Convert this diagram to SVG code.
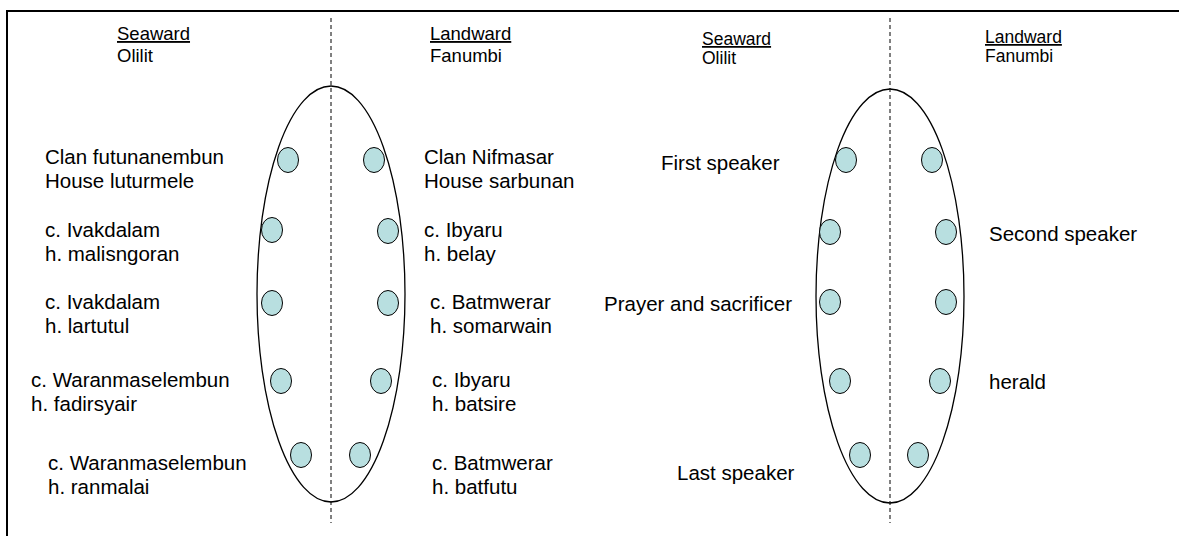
<svg xmlns="http://www.w3.org/2000/svg" width="1179" height="536" viewBox="0 0 1179 536">
<style>
text{font-family:"Liberation Sans",Arial,sans-serif;font-size:20.5px;fill:#000}
.h{font-size:18.5px}
.h2{font-size:17.5px}
.u{text-decoration:underline}
.dash{stroke:#000;stroke-width:1;stroke-dasharray:4,3;fill:none}
.ell{fill:none;stroke:#000;stroke-width:1.3}
.dot{fill:#b8dfe0;stroke:#000;stroke-width:1}
</style>
<rect width="1179" height="536" fill="#fff"/>
<g id="frame">
<line x1="6" y1="11" x2="1179" y2="11" stroke="#000" stroke-width="2"/>
<line x1="7" y1="10" x2="7" y2="536" stroke="#000" stroke-width="2"/>
</g>
<g id="connectors">
<line class="dash" x1="331" y1="18" x2="331" y2="523"/>
<line class="dash" x1="890" y1="18" x2="890" y2="523"/>
</g>
<g id="left-diagram">
<ellipse class="ell" cx="331" cy="294" rx="74" ry="208"/>
<g id="left-headers">
<text x="117" y="40" class="h u">Seaward</text>
<text x="117" y="62" class="h">Olilit</text>
<text x="430" y="40" class="h u">Landward</text>
<text x="430" y="62" class="h">Fanumbi</text>
</g>
<g id="l1s"><ellipse class="dot" cx="288" cy="160" rx="10.5" ry="12.5"/><text x="45" y="164">Clan futunanembun</text><text x="45" y="188">House luturmele</text></g>
<g id="l1l"><ellipse class="dot" cx="374" cy="160" rx="10.5" ry="12.5"/><text x="424" y="164">Clan Nifmasar</text><text x="424" y="188">House sarbunan</text></g>
<g id="l2s"><ellipse class="dot" cx="272" cy="230" rx="10.5" ry="12.5"/><text x="45" y="237">c. Ivakdalam</text><text x="45" y="261">h. malisngoran</text></g>
<g id="l2l"><ellipse class="dot" cx="388" cy="231" rx="10.5" ry="12.5"/><text x="424" y="237">c. Ibyaru</text><text x="424" y="261">h. belay</text></g>
<g id="l3s"><ellipse class="dot" cx="272" cy="303" rx="10.5" ry="12.5"/><text x="45" y="309">c. Ivakdalam</text><text x="45" y="333">h. lartutul</text></g>
<g id="l3l"><ellipse class="dot" cx="388" cy="303" rx="10.5" ry="12.5"/><text x="430" y="309">c. Batmwerar</text><text x="430" y="333">h. somarwain</text></g>
<g id="l4s"><ellipse class="dot" cx="281" cy="381" rx="10.5" ry="12.5"/><text x="31" y="387">c. Waranmaselembun</text><text x="31" y="411">h. fadirsyair</text></g>
<g id="l4l"><ellipse class="dot" cx="381" cy="381" rx="10.5" ry="12.5"/><text x="432" y="387">c. Ibyaru</text><text x="432" y="411">h. batsire</text></g>
<g id="l5s"><ellipse class="dot" cx="301" cy="455" rx="10.5" ry="12.5"/><text x="48" y="470">c. Waranmaselembun</text><text x="48" y="494">h. ranmalai</text></g>
<g id="l5l"><ellipse class="dot" cx="360" cy="455" rx="10.5" ry="12.5"/><text x="432" y="470">c. Batmwerar</text><text x="432" y="494">h. batfutu</text></g>
</g>
<g id="right-diagram">
<ellipse class="ell" cx="890" cy="296" rx="74" ry="207"/>
<g id="right-headers">
<text x="702" y="45" class="h2 u">Seaward</text>
<text x="702" y="64" class="h2">Olilit</text>
<text x="985" y="43" class="h2 u">Landward</text>
<text x="985" y="62" class="h2">Fanumbi</text>
</g>
<g id="r1s"><ellipse class="dot" cx="846" cy="160" rx="10.5" ry="12.5"/><text x="661" y="170">First speaker</text></g>
<g id="r1l"><ellipse class="dot" cx="932" cy="160" rx="10.5" ry="12.5"/></g>
<g id="r2s"><ellipse class="dot" cx="830" cy="232" rx="10.5" ry="12.5"/></g>
<g id="r2l"><ellipse class="dot" cx="946" cy="232" rx="10.5" ry="12.5"/><text x="989" y="241">Second speaker</text></g>
<g id="r3s"><ellipse class="dot" cx="830" cy="302" rx="10.5" ry="12.5"/><text x="604" y="311">Prayer and sacrificer</text></g>
<g id="r3l"><ellipse class="dot" cx="946" cy="302" rx="10.5" ry="12.5"/></g>
<g id="r4s"><ellipse class="dot" cx="840" cy="381" rx="10.5" ry="12.5"/></g>
<g id="r4l"><ellipse class="dot" cx="940" cy="381" rx="10.5" ry="12.5"/><text x="989" y="389">herald</text></g>
<g id="r5s"><ellipse class="dot" cx="860" cy="455" rx="10.5" ry="12.5"/><text x="677" y="480">Last speaker</text></g>
<g id="r5l"><ellipse class="dot" cx="918" cy="455" rx="10.5" ry="12.5"/></g>
</g>
</svg>
